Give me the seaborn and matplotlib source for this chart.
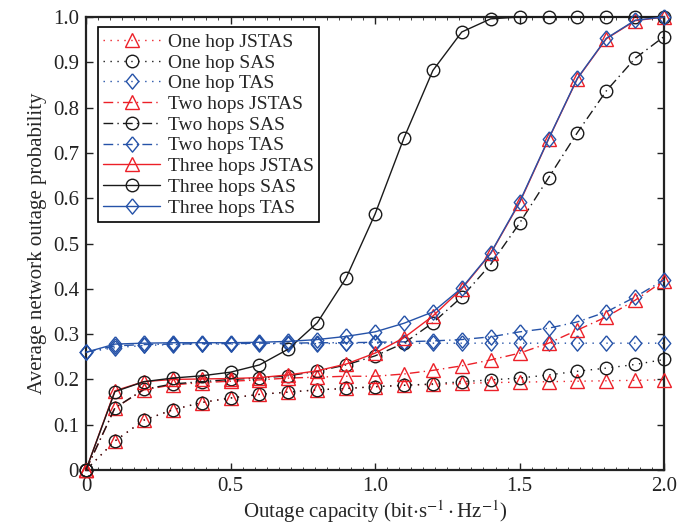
import numpy as np
import pandas as pd
import matplotlib
matplotlib.use('Agg')
import matplotlib.pyplot as plt
from matplotlib.ticker import MultipleLocator, FixedLocator
import seaborn as sns

# data
capacity = [0.0, 0.1, 0.2, 0.3, 0.4, 0.5, 0.6, 0.7, 0.8, 0.9, 1.0,
            1.1, 1.2, 1.3, 1.4, 1.5, 1.6, 1.7, 1.8, 1.9, 2.0]

one_jstas = [0.0, 0.064, 0.110, 0.133, 0.149, 0.159, 0.167, 0.172, 0.177, 0.180, 0.184,
             0.187, 0.189, 0.191, 0.193, 0.194, 0.195, 0.196, 0.197, 0.198, 0.199]
one_sas = [0.0, 0.064, 0.110, 0.133, 0.149, 0.159, 0.167, 0.172, 0.177, 0.180, 0.184,
           0.187, 0.190, 0.195, 0.199, 0.203, 0.210, 0.218, 0.225, 0.233, 0.244]
one_tas = [0.26, 0.270, 0.275, 0.277, 0.278, 0.278, 0.279, 0.279, 0.279, 0.280, 0.280,
           0.280, 0.280, 0.280, 0.280, 0.280, 0.280, 0.280, 0.280, 0.280, 0.280]

two_jstas = [0.0, 0.137, 0.177, 0.188, 0.193, 0.196, 0.199, 0.203, 0.205, 0.207, 0.207,
             0.212, 0.220, 0.230, 0.243, 0.258, 0.280, 0.309, 0.338, 0.375, 0.418]
two_sas = [0.0, 0.137, 0.178, 0.190, 0.195, 0.200, 0.203, 0.208, 0.218, 0.232, 0.252,
           0.280, 0.325, 0.382, 0.454, 0.545, 0.645, 0.745, 0.837, 0.909, 0.957]
two_tas = [0.26, 0.274, 0.277, 0.278, 0.279, 0.279, 0.280, 0.280, 0.281, 0.281, 0.282,
           0.283, 0.285, 0.288, 0.294, 0.305, 0.313, 0.327, 0.349, 0.382, 0.420]

three_jstas = [0.0, 0.175, 0.195, 0.200, 0.201, 0.202, 0.204, 0.210, 0.219, 0.234, 0.258,
               0.292, 0.340, 0.400, 0.478, 0.590, 0.730, 0.864, 0.952, 0.992, 1.0]
three_sas = [0.0, 0.173, 0.195, 0.203, 0.208, 0.216, 0.232, 0.267, 0.325, 0.424, 0.565,
             0.733, 0.882, 0.967, 0.996, 1.0, 1.0, 1.0, 1.0, 1.0, 1.0]
three_tas = [0.26, 0.278, 0.280, 0.281, 0.281, 0.281, 0.282, 0.284, 0.288, 0.295, 0.305,
             0.324, 0.349, 0.402, 0.479, 0.592, 0.731, 0.865, 0.953, 0.993, 1.0]

labels = ['One hop JSTAS', 'One hop SAS', 'One hop TAS',
          'Two hops JSTAS', 'Two hops SAS', 'Two hops TAS',
          'Three hops JSTAS', 'Three hops SAS', 'Three hops TAS']
values = [one_jstas, one_sas, one_tas, two_jstas, two_sas, two_tas,
          three_jstas, three_sas, three_tas]

red = '#ec2028'
black = '#1a1a1a'
blue = '#2552a8'
diamond = [(0, 1), (0.82, 0), (0, -1), (-0.82, 0), (0, 1)]
colors = [red, black, blue] * 3
markers = ['^', 'o', diamond] * 3
msizes = [10, 9, 11] * 3
styles = [(0, (1, 4))] * 3 + [(0, (7, 3, 1, 3))] * 3 + ['-'] * 3

sns.set_style('ticks')
plt.rcParams['font.family'] = ['Liberation Serif', 'DejaVu Serif']
plt.rcParams['mathtext.fontset'] = 'stix'

fig = plt.figure(figsize=(6.77, 5.32), dpi=100)
ax = fig.add_axes([0.127, 0.1165, 0.854, 0.8515])

for lab, vals, c, m, ms, ls in zip(labels, values, colors, markers, msizes, styles):
    df = pd.DataFrame({'x': capacity, 'y': vals})
    sns.lineplot(data=df, x='x', y='y', ax=ax, color=c, linestyle=ls, linewidth=1.0,
                 marker=m, markersize=ms, markerfacecolor='none', markeredgecolor=c,
                 markeredgewidth=1.0, label=lab, clip_on=False, zorder=3)

ax.set_xlim(0, 2.0)
ax.set_ylim(0, 1.0)
ax.xaxis.set_major_locator(FixedLocator([0, 0.5, 1.0, 1.5, 2.0]))
ax.set_xticklabels(['0', '0.5', '1.0', '1.5', '2.0'])
ax.xaxis.set_minor_locator(MultipleLocator(0.5 / 12))
yt = [0.0, 0.1, 0.2, 0.3, 0.4, 0.5, 0.6, 0.7, 0.8, 0.9, 1.0]
ax.yaxis.set_major_locator(FixedLocator(yt))
ax.set_yticklabels(['0'] + ['%.1f' % v for v in yt[1:]])
ax.tick_params(which='both', direction='in', top=True, right=True, labelsize=15, colors='#222222')
ax.tick_params(which='major', length=5, width=1.0, pad=5)
ax.tick_params(which='minor', length=2.5, width=0.6)
for sp in ax.spines.values():
    sp.set_linewidth(1.6)
    sp.set_color('#222222')

ax.set_xlabel(r'Outage capacity (bit$\cdot$s$^{-1}\cdot$Hz$^{-1}$)', fontsize=15, labelpad=2)
ax.set_ylabel('Average network outage probability', fontsize=15, labelpad=4)

leg = ax.legend(loc='upper left', bbox_to_anchor=(0.01, 0.99), fontsize=14, frameon=True,
                fancybox=False, edgecolor='black', handlelength=2.9, handletextpad=0.4,
                labelspacing=0.16, borderpad=0.3, borderaxespad=0.3)
leg.get_frame().set_linewidth(1.2)
leg.get_frame().set_alpha(1)

fig.savefig('out.png', dpi=100)
